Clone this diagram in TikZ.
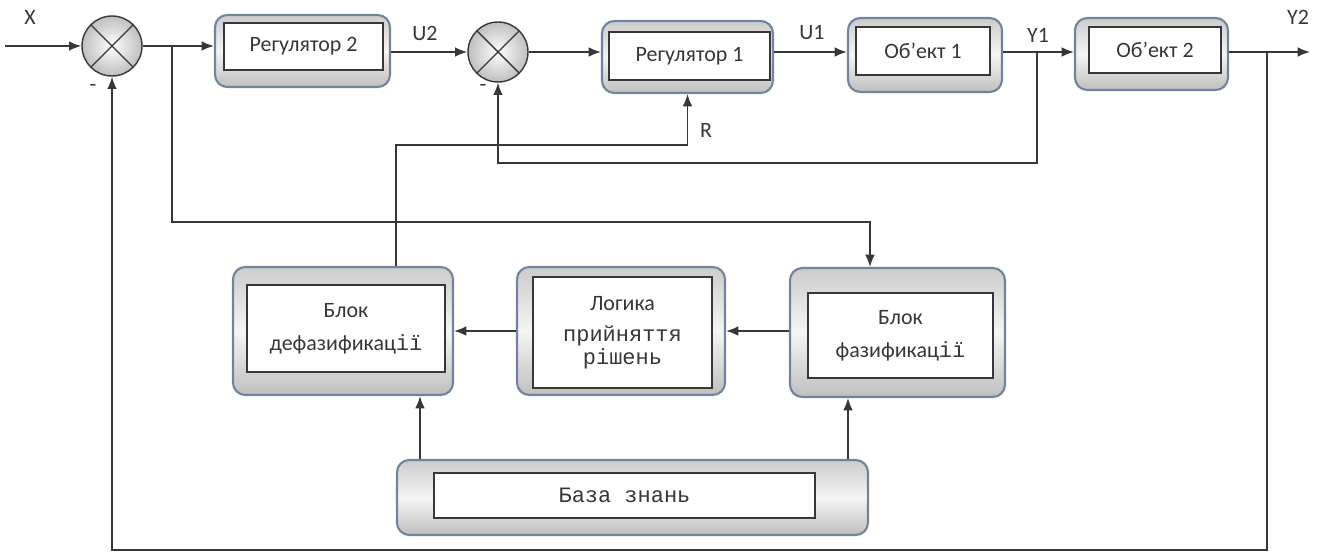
\documentclass[tikz,border=0pt]{standalone}
\usepackage{fontspec}
\setmainfont{Carlito}
\newfontfamily\monofont{Liberation Mono}
\usetikzlibrary{arrows.meta,fit}

\definecolor{edge}{RGB}{112,132,158}
\definecolor{ink}{RGB}{55,55,55}

\tikzset{
  outer/.style={draw=edge, line width=1.2pt, rounded corners=7pt, inner sep=0pt,
    top color=gray!40, bottom color=gray!50, middle color=gray!8},
  inner/.style={draw=ink, line width=0.8pt, fill=white, inner sep=0pt},
  txt/.style={text=ink, align=center, inner sep=0pt, font=\fontsize{12.5}{19}\selectfont},
  sum/.style={circle, draw=ink, line width=0.8pt, minimum size=1.2cm, inner sep=0pt,
    inner color=white, outer color=gray!50,
    path picture={\draw[ink, line width=0.8pt]
      (path picture bounding box.north west) -- (path picture bounding box.south east)
      (path picture bounding box.north east) -- (path picture bounding box.south west);}},
  wire/.style={draw=ink, line width=0.9pt},
  arr/.style={wire, -{Latex[length=7pt,width=5.5pt]}},
  lbl/.style={text=ink, font=\fontsize{12.5}{14}\selectfont},
}

\begin{document}
\begin{tikzpicture}[x=0.02cm, y=-0.02cm]
\useasboundingbox (0,0) rectangle (1323,560);

% summing points
\node[sum] (sum1) at (112,46) {};
\node[sum] (sum2) at (498,52) {};

% upper blocks
\node[outer, fit={(215,15) (390,87)}] (reg2) {};
\node[inner, fit={(224,23) (383,70)}] (reg2t) {};
\node[txt] (reg2l) at (reg2t) {Регулятор 2};
\node[outer, fit={(602,21) (773,93)}] (reg1) {};
\node[inner, fit={(609,32) (770,80)}] (reg1t) {};
\node[txt] (reg1l) at (reg1t) {Регулятор 1};
\node[outer, fit={(848,18) (1002,92)}] (obj1) {};
\node[inner, fit={(856,27) (990,75)}] (obj1t) {};
\node[txt] (obj1l) at (obj1t) {Об’ект 1};
\node[outer, fit={(1075,18) (1228,90)}] (obj2) {};
\node[inner, fit={(1089,27) (1221,73)}] (obj2t) {};
\node[txt] (obj2l) at (obj2t) {Об’ект 2};

% fuzzy part
\node[outer, fit={(233,267) (453,395)}] (defuzz) {};
\node[inner, fit={(247,285) (445,372)}] (defuzzt) {};
\node[txt] (defuzzl) at (defuzzt) {Блок\\дефазификац{\monofont ії}};
\node[outer, fit={(517,267) (725,395)}] (logic) {};
\node[inner, fit={(533,277) (712,388)}] (logict) {};
\node[txt] (logicl) at (logict)
  {Логика\\[-1pt]{\monofont прийняття}\\[-6pt]{\monofont рішень}};
\node[outer, fit={(790,268) (1005,397)}] (fuzz) {};
\node[inner, fit={(808,293) (993,378)}] (fuzzt) {};
\node[txt] (fuzzl) at (fuzzt) {Блок\\фазификац{\monofont ії}};
\node[outer, fit={(397,460) (868,535)}] (kb) {};
\node[inner, fit={(434,473) (815,518)}] (kbt) {};
\node[txt] (kbl) at (kbt) {\monofont База знань};

% main chain
\coordinate (in) at (5,46);
\coordinate (out) at (1310,52);
\draw[arr] (in) -- (sum1);
\draw[arr] (sum1) -- (sum1 -| reg2.west);
\draw[arr] (reg2.east |- sum2) -- (sum2);
\draw[arr] (sum2) -- (sum2 -| reg1.west);
\draw[arr] (reg1.east |- sum2) -- (sum2 -| obj1.west);
\draw[arr] (obj1.east |- sum2) -- (sum2 -| obj2.west);
\draw[arr] (obj2.east |- out) -- (out);

% feedback and branches
\coordinate (b1) at (172,46);
\coordinate (b2) at (1037,52);
\coordinate (b3) at (1267,52);
\coordinate (c1) at (870,222);
\coordinate (c2) at (498,163);
\coordinate (c3) at (112,550);
\coordinate (c4) at (396,145);
\draw[arr] (b1) |- (c1) -- (c1 |- fuzz.north);
\draw[arr] (b2) |- (c2) -- (sum2);
\draw[arr] (b3) |- (c3) -- (sum1);
\draw[arr] (defuzz.north -| c4) -- (c4) -| (reg1.south);

% inside the fuzzy controller
\coordinate (k1) at (420,0);
\coordinate (k2) at (848,0);
\draw[arr] (logic) -- (defuzz);
\draw[arr] (fuzz.west |- logic) -- (logic);
\draw[arr] (kb.north -| k1) -- (defuzz.south -| k1);
\draw[arr] (kb.north -| k2) -- (fuzz.south -| k2);

% labels
\node[lbl] (lx) at (30,17) {X};
\node[lbl] (lu2) at (425,33) {U2};
\node[lbl] (lu1) at (812,33) {U1};
\node[lbl] (ly1) at (1038,35) {Y1};
\node[lbl] (ly2) at (1298,17) {Y2};
\node[lbl] (lr) at (706,130) {R};
\node[lbl] (lm1) at (93,88) {-};
\node[lbl] (lm2) at (483,88) {-};
\end{tikzpicture}
\end{document}
